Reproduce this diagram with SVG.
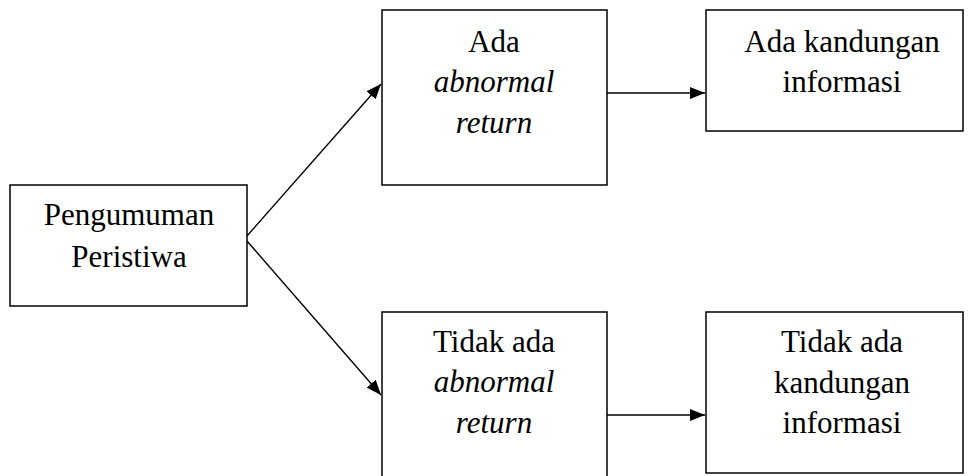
<svg xmlns="http://www.w3.org/2000/svg" width="968" height="476" viewBox="0 0 968 476">
<defs>
<marker id="ah" markerWidth="16" markerHeight="12" refX="15" refY="6" orient="auto" markerUnits="userSpaceOnUse">
<path d="M0,0 L15,6 L0,12 Z" fill="#000"/>
</marker>
<style>
.box{fill:#fff;stroke:#000;stroke-width:1.5}
.t{font-family:'Liberation Serif','Times New Roman',Times,serif;font-size:31px;fill:#000;text-anchor:middle}
.i{font-style:italic}
.c{stroke:#000;stroke-width:1.4;fill:none;marker-end:url(#ah)}
</style>
</defs>
<rect width="968" height="476" fill="#fff"/>
<g id="connectors">
<line class="c" x1="247" y1="236" x2="381" y2="84"/>
<line class="c" x1="247" y1="241" x2="381" y2="395"/>
<line class="c" x1="607" y1="93" x2="705" y2="93"/>
<line class="c" x1="607" y1="415" x2="705" y2="415"/>
</g>
<g id="pengumuman">
<rect class="box" x="10" y="185" width="237" height="121"/>
<text class="t" x="129" y="225">Pengumuman</text>
<text class="t" x="129" y="267">Peristiwa</text>
</g>
<g id="ada-abnormal">
<rect class="box" x="382" y="10" width="225" height="175"/>
<text class="t" x="494" y="52">Ada</text>
<text class="t i" x="494" y="92">abnormal</text>
<text class="t i" x="494" y="133">return</text>
</g>
<g id="ada-kandungan">
<rect class="box" x="706" y="10" width="257" height="121"/>
<text class="t" x="842" y="52">Ada kandungan</text>
<text class="t" x="842" y="92">informasi</text>
</g>
<g id="tidak-abnormal">
<rect class="box" x="382" y="312" width="225" height="170"/>
<text class="t" x="494" y="352">Tidak ada</text>
<text class="t i" x="494" y="392">abnormal</text>
<text class="t i" x="494" y="433">return</text>
</g>
<g id="tidak-kandungan">
<rect class="box" x="706" y="312" width="257" height="161"/>
<text class="t" x="842" y="352">Tidak ada</text>
<text class="t" x="842" y="393">kandungan</text>
<text class="t" x="842" y="433">informasi</text>
</g>
</svg>
